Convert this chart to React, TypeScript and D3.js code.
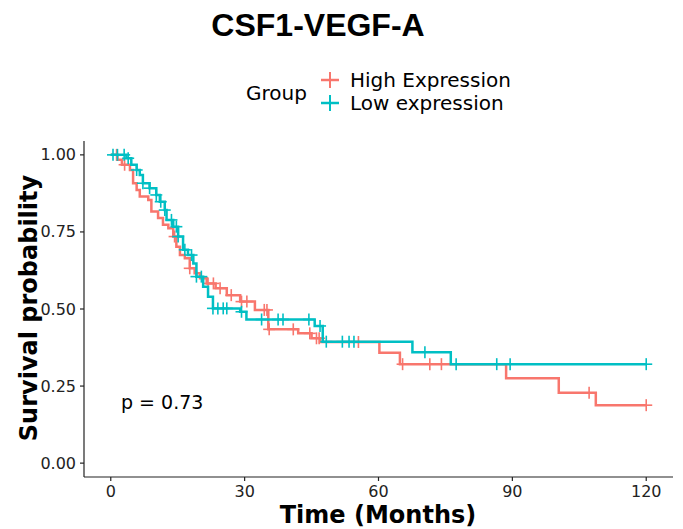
import * as d3 from "d3";

const W = 683;
const H = 529;

// Kaplan-Meier steps: [time (months), survival after the drop]
const highSteps: [number, number][] = [
  [0, 1], [1.5, 0.984], [2.5, 0.968], [4.3, 0.951], [5.0, 0.908], [5.8, 0.886], [6.5, 0.865],
  [8.4, 0.854], [9.1, 0.816], [10.6, 0.795], [11.7, 0.773], [12.9, 0.762], [14.0, 0.735],
  [14.7, 0.702], [15.5, 0.675], [16.6, 0.665], [17.7, 0.632], [18.8, 0.616], [20.0, 0.6],
  [21.5, 0.583], [23.5, 0.567], [26.0, 0.545], [29.0, 0.524], [32.3, 0.497], [35.3, 0.434],
  [42.0, 0.421], [45.0, 0.405], [46.9, 0.393], [60.2, 0.358], [64.8, 0.321], [88.6, 0.275],
  [100.4, 0.228], [108.7, 0.188],
];
const highCensor = [
  1.3, 3.1, 14.3, 17.7, 21.8, 23, 24.5, 27, 29.3, 30.5, 34.4, 35.0, 35.5, 40.9, 44.6, 46.1,
  46.7, 55.5, 65.4, 71.5, 74.1, 107.2, 120,
];

const lowSteps: [number, number][] = [
  [0, 1], [3.5, 0.989], [4.6, 0.968], [5.8, 0.951], [6.5, 0.935], [7.2, 0.908], [8.7, 0.892],
  [10.2, 0.87], [11.0, 0.848], [12.1, 0.821], [12.5, 0.789], [14.0, 0.767], [15.1, 0.735],
  [16.2, 0.692], [17.3, 0.675], [18.5, 0.648], [19.2, 0.605], [20.7, 0.572], [21.8, 0.54],
  [22.9, 0.502], [29.0, 0.491], [30.4, 0.466], [45.7, 0.445], [47.5, 0.394], [67.6, 0.36],
  [76.2, 0.321],
];
const lowCensor = [
  0.5, 1.5, 3.0, 3.9, 5.8, 7.2, 8.7, 10.2, 11.2, 12.1, 13.6, 14.7, 15.1, 16.6, 18.1, 19.2,
  20.3, 22.9, 24, 25.2, 26, 29.3, 33.8, 37.5, 38.6, 44.4, 46.9, 48.3, 51.9, 53.4, 54.5, 70.4,
  77.4, 86.5, 89.5, 120,
];

const groups = ["High Expression", "Low expression"];
const colors = ["#F8766D", "#00BFC4"];
const xTicks = [0, 30, 60, 90, 120];
const yTicks = [0, 0.25, 0.5, 0.75, 1];
const maxTime = 120;

const left = 84;
const right = 673;
const top = 141;
const bottom = 477;

function survAt(steps: [number, number][], t: number) {
  let s = 1;
  for (const [time, v] of steps) if (time <= t) s = v;
  return s;
}

function App() {
  const x = d3.scaleLinear().domain([-6, 126]).range([left, right]);
  const y = d3.scaleLinear().domain([-0.045, 1.045]).range([bottom, top]);

  const line = d3
    .line<[number, number]>()
    .x((d) => x(d[0]))
    .y((d) => y(d[1]))
    .curve(d3.curveStepAfter);

  const series = [
    { steps: highSteps, censor: highCensor },
    { steps: lowSteps, censor: lowCensor },
  ];

  const font = "'DejaVu Sans', sans-serif";

  return (
    <svg width={W} height={H} style={{ position: "absolute", left: 0, top: 0 }}>
      <rect width={W} height={H} fill="white" />
      <text x={318} y={36} textAnchor="middle" fontFamily="'Liberation Sans', Arial, sans-serif"
        fontWeight="bold" fontSize={32}>CSF1-VEGF-A</text>

      {/* legend */}
      <text x={246} y={100} fontFamily={font} fontSize={20}>Group</text>
      {groups.map((g, i) => (
        <g key={g} transform={`translate(330,${80 + i * 23})`}>
          <line x1={-9} x2={9} y1={0} y2={0} stroke={colors[i]} strokeWidth={2.5} />
          <line x1={0} x2={0} y1={-8} y2={8} stroke={colors[i]} strokeWidth={2} />
          <text x={20} y={7} fontFamily={font} fontSize={20}>{g}</text>
        </g>
      ))}

      {/* curves */}
      {series.map((s, i) => {
        const pts: [number, number][] = [...s.steps, [maxTime, s.steps[s.steps.length - 1][1]]];
        return (
          <g key={i}>
            <path d={line(pts) ?? ""} fill="none" stroke={colors[i]} strokeWidth={2.5} />
            {s.censor.map((t, j) => {
              const cx = x(t);
              const cy = y(survAt(s.steps, t));
              return (
                <g key={j} stroke={colors[i]} strokeWidth={1.6}>
                  <line x1={cx - 6} x2={cx + 6} y1={cy} y2={cy} />
                  <line x1={cx} x2={cx} y1={cy - 6} y2={cy + 6} />
                </g>
              );
            })}
          </g>
        );
      })}

      {/* axes */}
      <line x1={left} x2={left} y1={top} y2={bottom} stroke="#222" strokeWidth={1.2} />
      <line x1={left} x2={right} y1={bottom} y2={bottom} stroke="#222" strokeWidth={1.2} />
      {yTicks.map((t) => (
        <g key={t}>
          <line x1={left - 4} x2={left} y1={y(t)} y2={y(t)} stroke="#222" strokeWidth={1.2} />
          <text x={left - 8} y={y(t) + 5.5} textAnchor="end" fontFamily={font} fontSize={16}
            fill="#222">{t.toFixed(2)}</text>
        </g>
      ))}
      {xTicks.map((t) => (
        <g key={t}>
          <line x1={x(t)} x2={x(t)} y1={bottom} y2={bottom + 4} stroke="#222" strokeWidth={1.2} />
          <text x={x(t)} y={bottom + 20} textAnchor="middle" fontFamily={font} fontSize={16}
            fill="#222">{t}</text>
        </g>
      ))}

      <text x={121} y={409} fontFamily={font} fontSize={19}>p = 0.73</text>

      <text x={378} y={523} textAnchor="middle" fontFamily={font} fontWeight="bold"
        fontSize={24}>Time (Months)</text>
      <text transform={`translate(37,308) rotate(-90)`} textAnchor="middle" fontFamily={font}
        fontWeight="bold" fontSize={24}>Survival probability</text>
    </svg>
  );
}

export default App;
